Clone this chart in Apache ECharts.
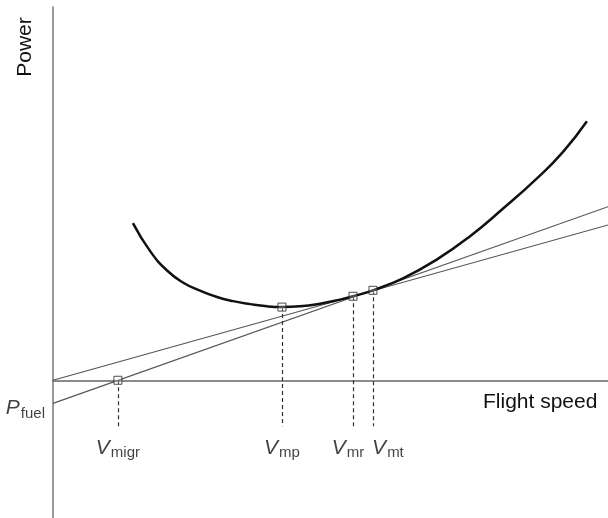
<!DOCTYPE html>
<html>
<head>
<meta charset="utf-8">
<script src="https://cdn.jsdelivr.net/npm/echarts@6/dist/echarts.min.js"></script>
<style>
  html, body { margin: 0; padding: 0; background: #fff; }
  #chart { width: 608px; height: 518px; }
</style>
</head>
<body>
<div id="chart"></div>
<script>
// power curve (speed, power in arbitrary units)
const curveSpeed = [2.88, 3.50, 4.11, 4.68, 5.30, 5.91, 6.49, 7.10, 7.71, 8.25, 8.90, 9.62, 10.34, 10.81, 11.53, 12.61, 13.84, 15.03, 16.22, 17.44, 18.38, 19.24];
const curvePower = [4.21, 3.46, 2.94, 2.62, 2.40, 2.23, 2.12, 2.04, 1.98, 1.96, 1.98, 2.05, 2.16, 2.25, 2.41, 2.73, 3.24, 3.86, 4.60, 5.41, 6.12, 6.94];

// the two straight tangents
const lineSpeed = [0, 20];
const rangeLinePower = [0, 4.16]; // from the origin, touches at Vmr
const fuelLinePower = [-0.62, 4.65]; // from P_fuel, touches at Vmt

// marked speeds
const markerNames = ['migr', 'mp', 'mr', 'mt'];
const markerSpeed = [2.34, 8.25, 10.81, 11.53];
const markerPower = [0, 1.96, 2.25, 2.41];
const dropPower = -1.23;

const labelOffsets = [0, 0, -5, 15];

const FONT = '"Liberation Sans", Arial, sans-serif';

const pairs = (xs, ys) => xs.map((x, i) => [x, ys[i]]);

const subRich = {
  v: { fontFamily: FONT, fontSize: 21, fontStyle: 'italic', color: '#111' },
  s: { fontFamily: FONT, fontSize: 15, color: '#111', padding: [10, 0, 0, 1] },
};

const chart = echarts.init(document.getElementById('chart'));

chart.setOption({
  animation: false,
  grid: { left: 53, right: 0, top: 7, bottom: 0 },
  xAxis: {
    type: 'value',
    min: 0,
    max: 20,
    axisLine: { onZero: true, lineStyle: { color: '#666', width: 1.5 } },
    axisTick: { show: false },
    axisLabel: { show: false },
    splitLine: { show: false },
  },
  yAxis: {
    type: 'value',
    min: -3.69,
    max: 10,
    axisLine: { show: true, onZero: false, lineStyle: { color: '#777', width: 1.5 } },
    axisTick: { show: false },
    axisLabel: { show: false },
    splitLine: { show: false },
  },
  graphic: [
    {
      type: 'text',
      x: 25,
      y: 47,
      rotation: Math.PI / 2,
      style: {
        text: 'Power', fontFamily: FONT, fontSize: 21, fill: '#111',
        align: 'center', verticalAlign: 'middle',
      },
    },
    {
      type: 'text',
      x: 483,
      y: 392,
      style: { text: 'Flight speed', fontFamily: FONT, fontSize: 21, fill: '#111' },
    },
  ],
  series: [
    {
      type: 'line',
      data: pairs(lineSpeed, rangeLinePower),
      symbol: 'none',
      lineStyle: { color: '#555', width: 1.2 },
      z: 2,
    },
    {
      type: 'line',
      data: pairs(lineSpeed, fuelLinePower),
      symbol: 'none',
      lineStyle: { color: '#555', width: 1.2 },
      z: 2,
    },
    {
      type: 'line',
      data: pairs(curveSpeed, curvePower),
      smooth: 0.5,
      symbol: 'none',
      lineStyle: { color: '#111', width: 2.5 },
      z: 3,
      // dashed drops from each marked point
      markLine: {
        silent: true,
        symbol: 'none',
        label: { show: false },
        lineStyle: { color: '#333', type: [4, 3], width: 1.2 },
        data: markerSpeed.map((x, i) => [
          { coord: [x, markerPower[i]] },
          { coord: [x, dropPower] },
        ]),
      },
    },
    {
      // P_fuel, left of the intercept
      type: 'scatter',
      data: [[lineSpeed[0], fuelLinePower[0]]],
      symbolSize: 0,
      clip: false,
      label: {
        show: true,
        position: 'left',
        distance: 8,
        offset: [0, 5],
        formatter: '{v|P}{s|fuel}',
        rich: subRich,
      },
    },
    {
      // V labels under the drops
      type: 'scatter',
      data: markerSpeed.map((x, i) => ({
        value: [x, dropPower],
        label: {
          show: true,
          position: 'bottom',
          distance: 9,
          offset: [labelOffsets[i], 0],
          formatter: `{v|V}{s|${markerNames[i]}}`,
          rich: subRich,
        },
      })),
      symbolSize: 0,
      z: 4,
    },
    {
      type: 'scatter',
      data: pairs(markerSpeed, markerPower),
      symbol: 'rect',
      symbolSize: 8,
      itemStyle: { color: 'rgba(255,255,255,0.3)', borderColor: '#222', borderWidth: 1 },
      z: 5,
    },
  ],
});
</script>
</body>
</html>
